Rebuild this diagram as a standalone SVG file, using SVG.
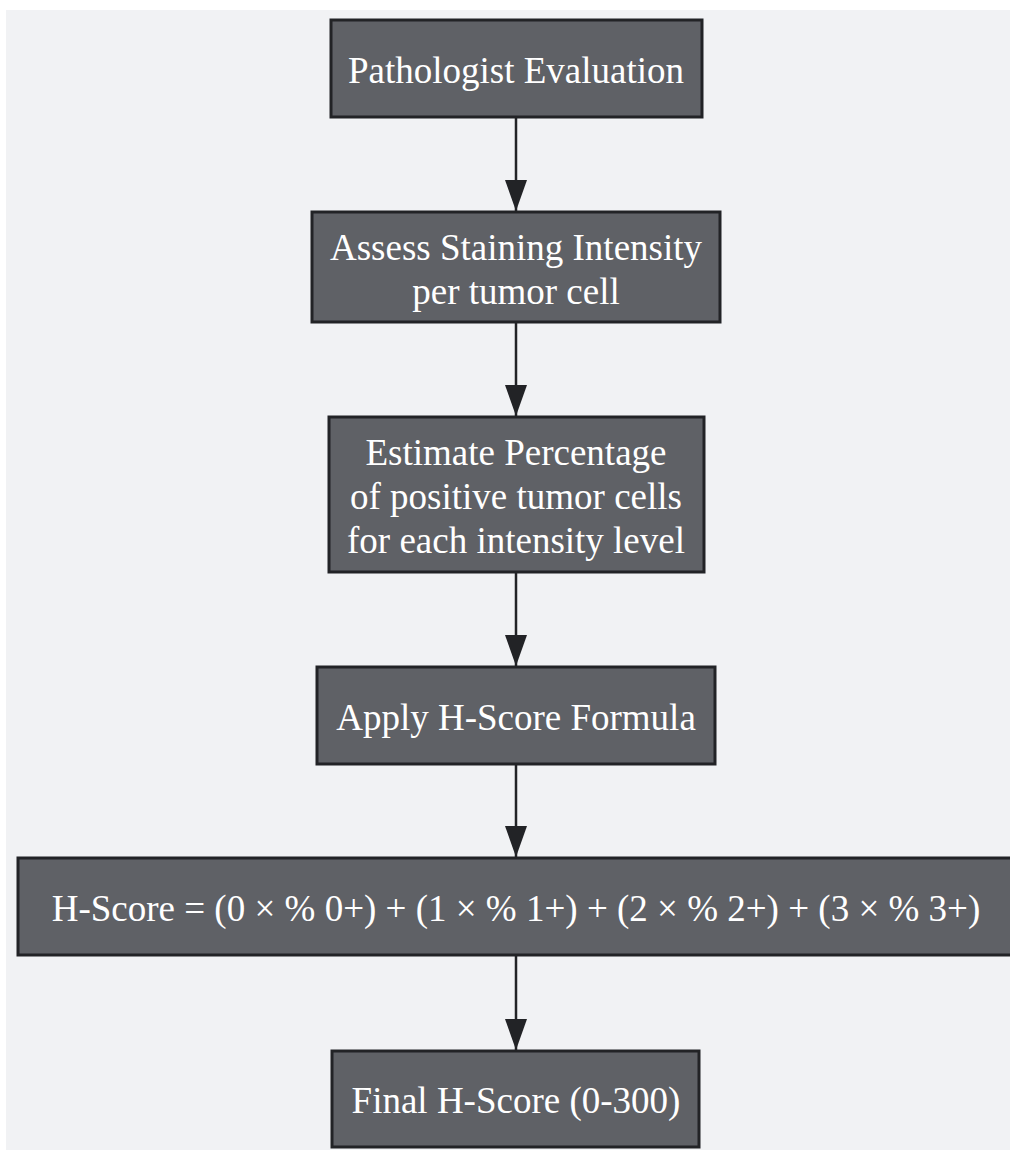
<svg xmlns="http://www.w3.org/2000/svg" width="1010" height="1150" viewBox="0 0 1010 1150">
<defs>
<style>
.node rect{fill:#5f6166;stroke:#222326;stroke-width:3}
.node text{font-family:"Liberation Serif","Times New Roman",serif;font-size:37px;fill:#ffffff;text-anchor:middle}
.edge{stroke:#222326;stroke-width:2.5;fill:none}
</style>
<marker id="ah" viewBox="0 0 31 22" refX="31" refY="11" markerWidth="31" markerHeight="22" markerUnits="userSpaceOnUse" orient="auto">
<path d="M0,0 L31,11 L0,22 Z" fill="#222326"/>
</marker>
</defs>
<rect x="6" y="10" width="1004" height="1140" fill="#f1f2f4"/>
<g id="connectors">
<line class="edge" x1="516" y1="118" x2="516" y2="211" marker-end="url(#ah)"/>
<line class="edge" x1="516" y1="323" x2="516" y2="416" marker-end="url(#ah)"/>
<line class="edge" x1="516" y1="573" x2="516" y2="666" marker-end="url(#ah)"/>
<line class="edge" x1="516" y1="765" x2="516" y2="857" marker-end="url(#ah)"/>
<line class="edge" x1="516" y1="956" x2="516" y2="1050" marker-end="url(#ah)"/>
</g>
<g id="n1" class="node"><rect x="331" y="20" width="371" height="97"/><text x="516" y="83">Pathologist Evaluation</text></g>
<g id="n2" class="node"><rect x="312" y="212" width="408" height="110"/><text x="516" y="260">Assess Staining Intensity</text><text x="516" y="304">per tumor cell</text></g>
<g id="n3" class="node"><rect x="329" y="417" width="375" height="155"/><text x="516" y="465">Estimate Percentage</text><text x="516" y="509">of positive tumor cells</text><text x="516" y="553">for each intensity level</text></g>
<g id="n4" class="node"><rect x="317" y="667" width="398" height="97"/><text x="516" y="730">Apply H-Score Formula</text></g>
<g id="n5" class="node"><rect x="18" y="858" width="1000" height="97"/><text x="516" y="921">H-Score = (0 × % 0+) + (1 × % 1+) + (2 × % 2+) + (3 × % 3+)</text></g>
<g id="n6" class="node"><rect x="332" y="1051" width="367" height="96"/><text x="516" y="1113">Final H-Score (0-300)</text></g>
</svg>
